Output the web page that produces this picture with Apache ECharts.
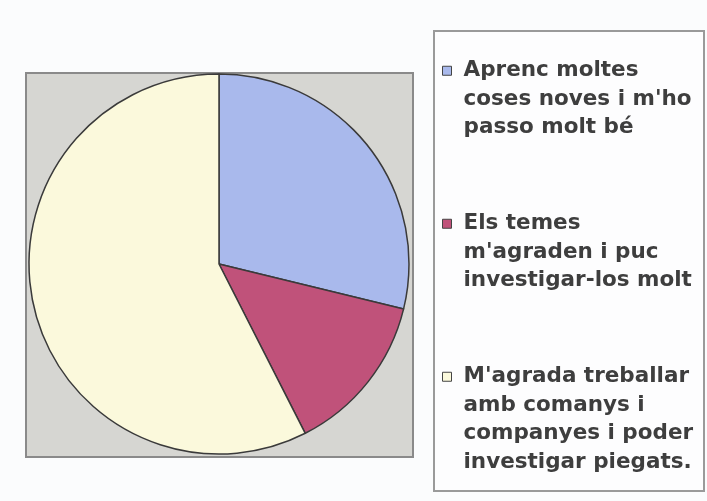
<!DOCTYPE html>
<html>
<head>
<meta charset="utf-8">
<title>pie</title>
<style>
  html, body { margin: 0; padding: 0; background: #fbfcfd; }
  #main { width: 707px; height: 501px; }
</style>
</head>
<body>
<div id="main"></div>
<script src="https://cdn.jsdelivr.net/npm/echarts@6/dist/echarts.min.js"></script>
<script>
// dades del gràfic
var labels = [
    'Aprenc moltes\ncoses noves i m\'ho\npasso molt bé',
    'Els temes\nm\'agraden i puc\ninvestigar-los molt',
    'M\'agrada treballar\namb comanys i\ncompanyes i poder\ninvestigar piegats.'
];
var values = [28.8, 13.7, 57.5];
var colors = ['#a9b9ec', '#c0527a', '#fbf9dc'];

var myChart = echarts.init(document.getElementById('main'));

var lineH = 28.5;
var legendTops = [56, 209, 362];

// una llegenda per element, amb el quadret alineat a la primera línia
var legends = labels.map(function (name, i) {
    var n = name.split('\n').length;
    var h = n * lineH;
    var y0 = lineH / 2 - 4.5;
    // quadret a dalt + punt invisible per ocupar tota l'alçada del text
    var icon = 'path://M0,0M0,' + y0 + 'H9V' + (y0 + 9) + 'H0Z M9,' + h;
    return {
        orient: 'vertical',
        left: 442,
        top: legendTops[i],
        padding: 0,
        itemWidth: 9,
        itemHeight: h,
        selectedMode: false,
        itemStyle: { borderColor: '#444', borderWidth: 1 },
        data: [{ name: name, icon: icon }],
        textStyle: {
            fontFamily: 'DejaVu Sans',
            fontWeight: 'bold',
            fontSize: 21.5,
            lineHeight: lineH,
            color: '#3e3e3e',
            padding: [0, 0, 0, 7]
        }
    };
});

var option = {
    backgroundColor: '#fbfcfd',
    animation: false,
    graphic: [
        {   // fons gris de la zona del gràfic
            type: 'rect',
            z: -10,
            shape: { x: 26, y: 73, width: 387, height: 384 },
            style: { fill: '#d6d6d2', stroke: '#8a8a8a', lineWidth: 2 }
        },
        {   // caixa de la llegenda
            type: 'rect',
            z: -10,
            shape: { x: 434, y: 31, width: 270, height: 460 },
            style: { fill: '#fdfdfe', stroke: '#9a9a9a', lineWidth: 2 }
        }
    ],
    legend: legends,
    series: [{
        type: 'pie',
        center: [219, 264],
        radius: [0, 190],
        startAngle: 90,
        clockwise: true,
        label: { show: false },
        labelLine: { show: false },
        itemStyle: { borderColor: '#3a3a3a', borderWidth: 1.5 },
        data: labels.map(function (name, i) {
            return { name: name, value: values[i], itemStyle: { color: colors[i] } };
        })
    }]
};

myChart.setOption(option);
</script>
</body>
</html>
